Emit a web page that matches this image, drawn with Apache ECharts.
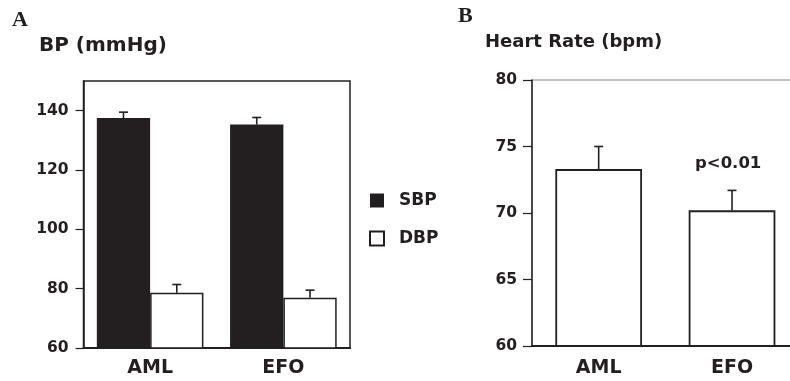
<!DOCTYPE html>
<html>
<head>
<meta charset="utf-8">
<script src="https://cdn.jsdelivr.net/npm/echarts@6/dist/echarts.min.js"></script>
<style>
html, body { margin: 0; padding: 0; background: #fff; overflow: hidden; }
/* the heart-rate frame runs past the right edge of the picture */
#main { width: 800px; height: 381px; }
</style>
</head>
<body>
<div id="main"></div>
<script>
// panel A: blood pressure
var groups = ['AML', 'EFO'];
var sbp = [137.5, 135.3];
var sbpErr = [2.0, 2.4];
var dbp = [78.6, 76.9];
var dbpErr = [2.8, 2.6];
var bpTicks = [60, 80, 100, 120, 140];

// panel B: heart rate
var heartRate = [73.3, 70.2];
var heartRateErr = [1.7, 1.5];
var hrTicks = [60, 65, 70, 75, 80];

var ink = '#231f20';
var font = 'DejaVu Sans';

function errorBars(idx, values, errs, shift) {
	return {
		type: 'custom',
		xAxisIndex: idx,
		yAxisIndex: idx,
		silent: true,
		z: 5,
		encode: { x: 0, y: [1, 2] },
		data: values.map(function (v, i) { return [i, v, v + errs[i]]; }),
		renderItem: function (params, api) {
			var band = api.size([1, 0])[0];
			var base = api.coord([api.value(0), api.value(1)]);
			var top = api.coord([api.value(0), api.value(2)]);
			var x = base[0] + band * shift;
			var style = { stroke: ink, lineWidth: 1.6 };
			return {
				type: 'group',
				children: [
					{ type: 'line', shape: { x1: x, y1: base[1], x2: x, y2: top[1] }, style: style },
					{ type: 'line', shape: { x1: x - 4.5, y1: top[1], x2: x + 4.5, y2: top[1] }, style: style }
				]
			};
		}
	};
}

function catAxis(idx, margin) {
	return {
		type: 'category',
		gridIndex: idx,
		data: groups,
		axisLine: { lineStyle: { color: ink, width: 2 } },
		axisTick: { alignWithLabel: true, length: 6, lineStyle: { color: ink, width: 1.5 } },
		axisLabel: { fontFamily: font, fontWeight: 'bold', fontSize: 19, color: ink, margin: margin }
	};
}

function valAxis(idx, min, max, interval, ticks, tickLen) {
	return {
		type: 'value',
		gridIndex: idx,
		min: min,
		max: max,
		interval: interval,
		axisLine: { show: true, lineStyle: { color: ink, width: 1.5 } },
		axisTick: { show: true, length: tickLen, customValues: ticks, lineStyle: { color: ink, width: 1.2 } },
		axisLabel: { customValues: ticks, fontFamily: font, fontWeight: 'bold', fontSize: 15.5, color: ink, margin: 15 },
		splitLine: { show: false }
	};
}

var titleText = function (text, left, top, size, family) {
	return {
		text: text, left: left, top: top, padding: 0,
		textStyle: { fontFamily: family, fontWeight: 'bold', fontSize: size, color: ink }
	};
};

var chart = echarts.init(document.getElementById('main'));
chart.setOption({
	backgroundColor: '#fff',
	animation: false,
	title: [
		titleText('A', 12, 9, 22, 'Liberation Serif'),
		titleText('BP (mmHg)', 39, 36, 20, font),
		titleText('B', 458, 5, 22, 'Liberation Serif'),
		titleText('Heart Rate (bpm)', 485, 33, 18, font)
	],
	legend: {
		data: ['SBP', 'DBP'],
		orient: 'vertical',
		left: 369,
		top: 192,
		padding: 0,
		icon: 'rect',
		itemWidth: 14,
		itemHeight: 14,
		itemGap: 21,
		selectedMode: false,
		textStyle: { fontFamily: font, fontWeight: 'bold', fontSize: 17, color: ink, padding: [0, 0, 0, 10] }
	},
	grid: [
		{ left: 83.5, top: 81, width: 266.5, height: 267, show: true, borderColor: ink, borderWidth: 1.5 },
		{ left: 532, top: 80, width: 266.7, height: 266, show: true, borderColor: '#888', borderWidth: 1 }
	],
	xAxis: [catAxis(0, 11), catAxis(1, 13)],
	yAxis: [valAxis(0, 60, 150, 20, bpTicks, 8), valAxis(1, 60, 80, 5, hrTicks, 9)],
	graphic: [{
		type: 'text',
		left: 695,
		top: 155,
		style: { text: 'p<0.01', fontFamily: font, fontWeight: 'bold', fontSize: 16.5, fill: ink }
	}],
	series: [
		{
			name: 'SBP', type: 'bar', xAxisIndex: 0, yAxisIndex: 0, data: sbp,
			barGap: '0%', barCategoryGap: '20%',
			itemStyle: { color: ink }
		},
		{
			name: 'DBP', type: 'bar', xAxisIndex: 0, yAxisIndex: 0, data: dbp,
			itemStyle: { color: '#fff', borderColor: ink, borderWidth: 1.5 }
		},
		errorBars(0, sbp, sbpErr, -0.2),
		errorBars(0, dbp, dbpErr, 0.2),
		{
			name: 'Heart Rate', type: 'bar', xAxisIndex: 1, yAxisIndex: 1, data: heartRate,
			barWidth: '65%',
			itemStyle: { color: '#fff', borderColor: ink, borderWidth: 1.8 }
		},
		errorBars(1, heartRate, heartRateErr, 0)
	]
});
</script>
</body>
</html>
